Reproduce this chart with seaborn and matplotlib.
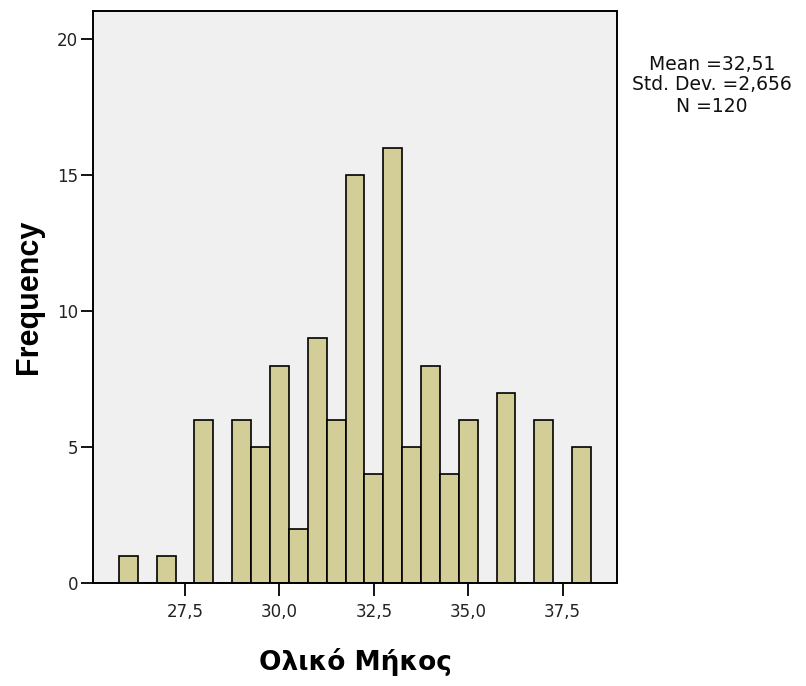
import matplotlib
matplotlib.use("Agg")
import matplotlib.pyplot as plt
import pandas as pd
import seaborn as sns
from matplotlib.ticker import FixedLocator, FuncFormatter

# Total length measurements (bin centres, 0.5 wide) and their frequencies
lengths = [26.0, 27.0, 28.0, 29.0, 29.5, 30.0, 30.5, 31.0, 31.5, 32.0,
           32.5, 33.0, 33.5, 34.0, 34.5, 35.0, 36.0, 37.0, 38.0]
counts = [1, 1, 6, 6, 5, 8, 2, 9, 6, 15, 4, 16, 5, 8, 4, 6, 7, 6, 5]

x_ticks = [27.5, 30.0, 32.5, 35.0, 37.5]
y_ticks = [0, 5, 10, 15, 20]

stats_lines = ["Mean =32,51", "Std. Dev. =2,656", "N =120"]

x_label = "Ολικό Μήκος"
y_label = "Frequency"

df = pd.DataFrame({"length": lengths, "count": counts})

sns.set_theme(style="white")
plt.rcParams["font.family"] = ["DejaVu Sans"]

W, H = 806, 686
fig = plt.figure(figsize=(W / 100, H / 100), dpi=100)
fig.patch.set_facecolor("white")

left, right, top, bottom = 93.3, 617.0, 11.0, 583.3
ax = fig.add_axes([left / W, 1 - bottom / H, (right - left) / W, (bottom - top) / H])
ax.set_facecolor("#f0f0f0")

sns.histplot(data=df, x="length", weights="count", binwidth=0.5,
             binrange=(25.75, 38.25), color="#d3ce97", alpha=1,
             edgecolor="black", linewidth=1.2, ax=ax)

ax.set_xlim(25.07, 38.94)
ax.set_ylim(0, 21.04)

ax.xaxis.set_major_locator(FixedLocator(x_ticks))
ax.yaxis.set_major_locator(FixedLocator(y_ticks))
ax.xaxis.set_major_formatter(FuncFormatter(lambda v, p: f"{v:.1f}".replace(".", ",")))
ax.yaxis.set_major_formatter(FuncFormatter(lambda v, p: f"{int(v)}"))
ax.tick_params(axis="both", direction="out", length=9, width=1.3, color="black",
               labelsize=12, labelcolor="#222222", pad=3)
ax.tick_params(axis="x", bottom=True, pad=5)
ax.tick_params(axis="y", left=True, pad=2)

for s in ax.spines.values():
    s.set_visible(True)
    s.set_color("black")
    s.set_linewidth(1.4)

ax.set_xlabel(x_label, fontsize=19, fontweight="bold", color="black")
ax.set_ylabel(y_label, fontsize=22, fontweight="bold", color="black",
              family=["Liberation Sans", "DejaVu Sans"])
ax.xaxis.set_label_coords((355 - left) / (right - left), -(662 - bottom) / (bottom - top))
ax.yaxis.set_label_coords((29 - left) / (right - left), (bottom - 297) / (bottom - top))
ax.xaxis.label.set_va("center")
ax.yaxis.label.set_va("center")

for i, line in enumerate(stats_lines):
    fig.text(712 / W, 1 - (64 + 21 * i) / H, line, ha="center", va="center",
             fontsize=13.5, color="#111111")

fig.savefig("out.png", dpi=100)
